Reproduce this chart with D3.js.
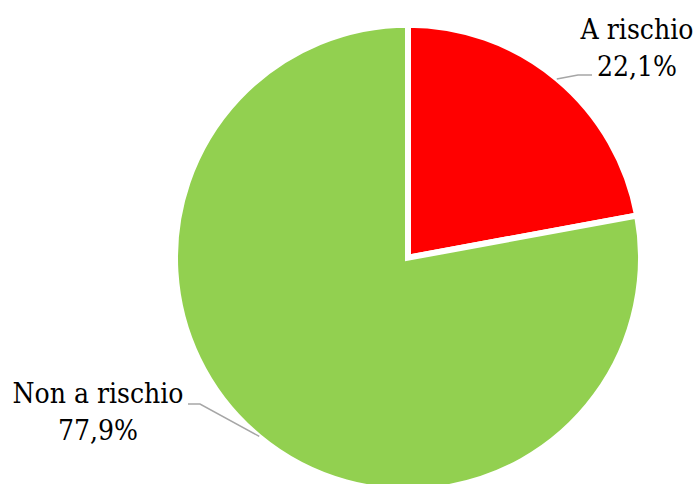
<!DOCTYPE html>
<html>
<head>
<meta charset="utf-8">
<script src="https://cdn.jsdelivr.net/npm/d3@7"></script>
<style>
  html, body { margin: 0; padding: 0; background: #fff; }
  svg { display: block; }
  .lbl { font-family: "DejaVu Serif", serif; font-stretch: condensed; font-size: 28px; fill: #000; }
</style>
</head>
<body>
<svg id="chart" width="699" height="484"></svg>
<script>
// Share of respondents by risk status
const categories = ["A rischio", "Non a rischio"];
const values = [22.1, 77.9];
const colors = ["#FF0000", "#92D050"];

const width = 699, height = 484;
const cx = 408, cy = 257.7;
const radius = 233;

// Label placement: where each leader line bends and ends, and the text anchor
const labelLayout = [
  { bend: [578, 75], end: [592, 75], text: [637, 39], anchor: "middle" },
  { bend: [200, 404], end: [188, 404], text: [98, 403], anchor: "middle" }
];

const fmt = v => d3.format(".1f")(v).replace(".", ",") + "%";

const svg = d3.select("#chart");
const g = svg.append("g").attr("transform", `translate(${cx},${cy})`);

const pie = d3.pie().sort(null).value(d => d.value);
const data = pie(categories.map((c, i) => ({ name: c, value: values[i], color: colors[i] })));

const arc = d3.arc().innerRadius(0).outerRadius(radius);

g.selectAll("path.slice")
  .data(data)
  .join("path")
  .attr("class", "slice")
  .attr("d", arc)
  .attr("fill", d => d.data.color)
  .attr("stroke", "#fff")
  .attr("stroke-width", 6)
  .attr("stroke-linejoin", "miter");

// Leader lines start on the rim at each slice's mid-angle
const rimArc = d3.arc().innerRadius(radius - 0.5).outerRadius(radius - 0.5);

data.forEach((d, i) => {
  const [sx, sy] = rimArc.centroid(d);
  const L = labelLayout[i];
  svg.append("polyline")
    .attr("points", [[sx + cx, sy + cy], L.bend, L.end].map(p => p.join(",")).join(" "))
    .attr("fill", "none")
    .attr("stroke", "#A6A6A6")
    .attr("stroke-width", 1.5);

  const t = svg.append("text")
    .attr("class", "lbl")
    .attr("x", L.text[0])
    .attr("y", L.text[1])
    .attr("text-anchor", L.anchor);
  t.append("tspan").attr("x", L.text[0]).text(d.data.name);
  t.append("tspan").attr("x", L.text[0]).attr("dy", 36.5).text(fmt(d.data.value));
});
</script>
</body>
</html>
